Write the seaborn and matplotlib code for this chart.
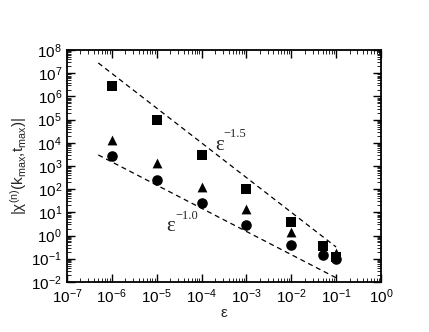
import numpy as np
import pandas as pd
import matplotlib
matplotlib.use("Agg")
import matplotlib.pyplot as plt
import matplotlib.ticker as mticker
import seaborn as sns

# ---- data ----
eps_sq = [1e-6, 1e-5, 1e-4, 1e-3, 1e-2, 5e-2, 1e-1]
chi_sq = [2.8e6, 9.5e4, 3.0e3, 1.0e2, 3.9, 0.35, 0.12]
eps_tri = [1e-6, 1e-5, 1e-4, 1e-3, 1e-2, 1e-1]
chi_tri = [1.3e4, 1.35e3, 1.25e2, 14.0, 1.4, 0.18]
eps_circ = [1e-6, 1e-5, 1e-4, 1e-3, 1e-2, 5e-2, 1e-1]
chi_circ = [2.6e3, 2.5e2, 25.0, 2.9, 0.4, 0.14, 0.1]
fit_x = [5e-7, 1e-1]
fit_upper = [2.8e7, 0.32]   # ~ eps^-1.5
fit_lower = [3.0e3, 0.015]  # ~ eps^-1.0
xlim = (1e-7, 1e0)
ylim = (1e-2, 1e8)

df = pd.concat([
    pd.DataFrame({"eps": eps_sq, "chi": chi_sq, "set": "sq"}),
    pd.DataFrame({"eps": eps_tri, "chi": chi_tri, "set": "tri"}),
    pd.DataFrame({"eps": eps_circ, "chi": chi_circ, "set": "circ"}),
])

sns.set_style("ticks")
plt.rcParams["font.family"] = ["Liberation Sans", "DejaVu Sans"]
plt.rcParams["mathtext.fontset"] = "custom"
plt.rcParams["mathtext.rm"] = "Liberation Sans"
plt.rcParams["mathtext.it"] = "Liberation Sans"
plt.rcParams["mathtext.bf"] = "Liberation Sans:bold"
plt.rcParams["axes.unicode_minus"] = False

fig = plt.figure(figsize=(4.29, 3.32), dpi=100)
ax = fig.add_axes([0.156, 0.151, 0.732, 0.698])

ax.set_xscale("log")
ax.set_yscale("log")

sns.lineplot(x=fit_x, y=fit_upper, ax=ax, color="black", linestyle=(0, (4, 3)), linewidth=0.9)
sns.lineplot(x=fit_x, y=fit_lower, ax=ax, color="black", linestyle=(0, (4, 3)), linewidth=0.9)

markers = {"sq": "s", "tri": "^", "circ": "o"}
sizes = {"sq": 42, "tri": 50, "circ": 58}
for key in ["sq", "tri", "circ"]:
    sub = df[df["set"] == key]
    sns.scatterplot(data=sub, x="eps", y="chi", ax=ax, marker=markers[key],
                    s=sizes[key], color="black", edgecolor="black", linewidth=0,
                    legend=False, zorder=3)

ax.set_xlim(*xlim)
ax.set_ylim(*ylim)

ax.xaxis.set_major_locator(mticker.LogLocator(base=10, numticks=20))
ax.yaxis.set_major_locator(mticker.LogLocator(base=10, numticks=20))
ax.xaxis.set_minor_locator(mticker.LogLocator(base=10, subs=np.arange(2, 10), numticks=100))
ax.yaxis.set_minor_locator(mticker.LogLocator(base=10, subs=np.arange(2, 10), numticks=100))
ax.xaxis.set_minor_formatter(mticker.NullFormatter())
ax.yaxis.set_minor_formatter(mticker.NullFormatter())

ax.tick_params(which="both", direction="in", top=True, right=True, colors="black")
ax.tick_params(which="major", length=6, width=1.0, labelsize=11)
ax.tick_params(which="minor", length=3, width=0.6)
ax.tick_params(axis="x", which="major", pad=4)
for sp in ax.spines.values():
    sp.set_linewidth(1.3)
    sp.set_color("black")

ax.set_xlabel("ε", fontsize=11, labelpad=0)
ax.set_ylabel("|χ$^{(n)}$(k$_{max}$,t$_{max}$)|", fontsize=11, labelpad=2)

serif = ["Liberation Serif", "DejaVu Serif"]
ax.text(2.0e-4, 4.9e3, "ε", fontsize=15, family=serif, ha="left", va="baseline")
ax.text(3.0e-4, 1.8e4, "−1.5", fontsize=9, family=serif, ha="left", va="baseline")
ax.text(1.6e-5, 1.6, "ε", fontsize=15, family=serif, ha="left", va="baseline")
ax.text(2.6e-5, 5.2, "−1.0", fontsize=9, family=serif, ha="left", va="baseline")

fig.savefig("out.png", dpi=100)
